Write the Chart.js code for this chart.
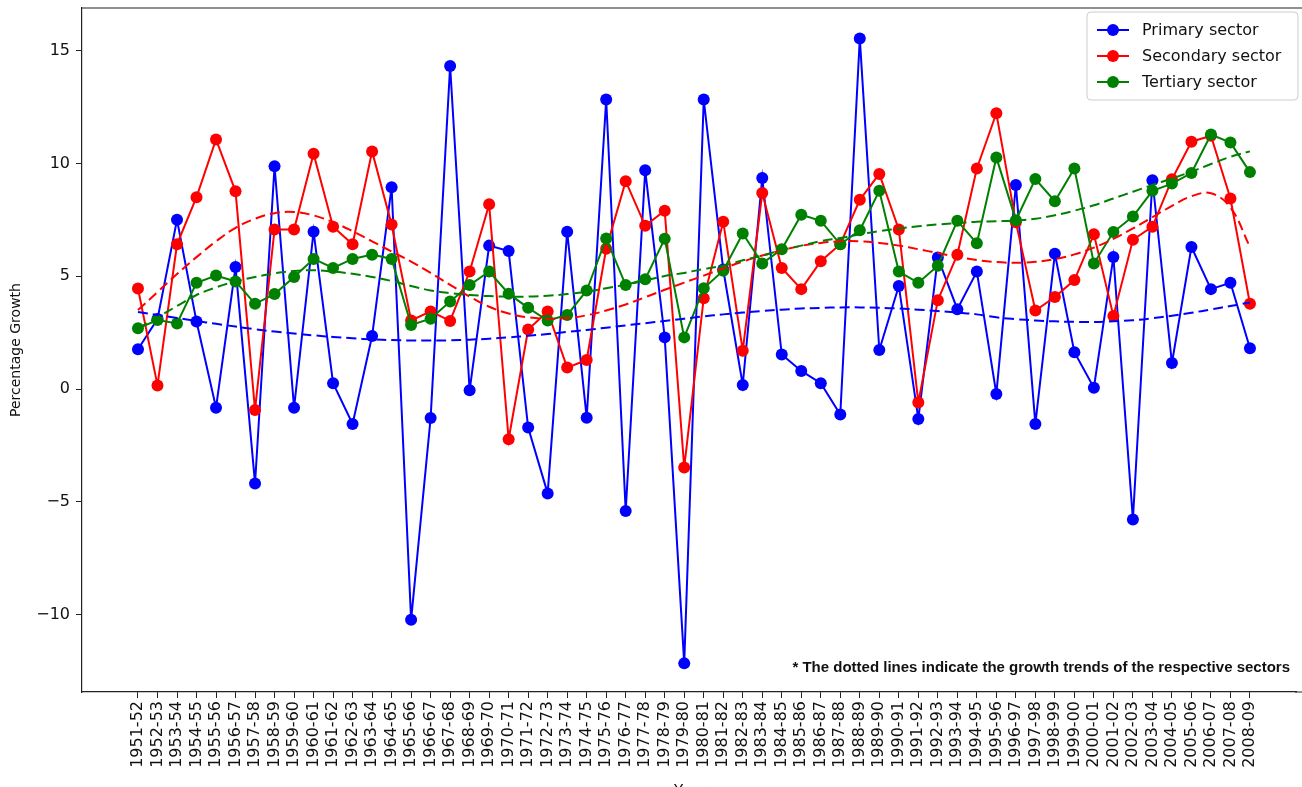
<!DOCTYPE html>
<html lang="en">
  <head>
    <meta charset="UTF-8" />
    <title>Sector growth</title>
    <script src="https://cdn.jsdelivr.net/npm/chart.js"></script>
    <style>
      body {
        margin: 0;
        background: #ffffff;
      }
      #chart {
        display: block;
      }
    </style>
  </head>
  <body>
    <canvas id="chart" width="1302" height="787"></canvas>

    <script>
      const years = [
        "1951-52", "1952-53", "1953-54", "1954-55", "1955-56", "1956-57", "1957-58", "1958-59",
        "1959-60", "1960-61", "1961-62", "1962-63", "1963-64", "1964-65", "1965-66", "1966-67",
        "1967-68", "1968-69", "1969-70", "1970-71", "1971-72", "1972-73", "1973-74", "1974-75",
        "1975-76", "1976-77", "1977-78", "1978-79", "1979-80", "1980-81", "1981-82", "1982-83",
        "1983-84", "1984-85", "1985-86", "1986-87", "1987-88", "1988-89", "1989-90", "1990-91",
        "1991-92", "1992-93", "1993-94", "1994-95", "1995-96", "1996-97", "1997-98", "1998-99",
        "1999-00", "2000-01", "2001-02", "2002-03", "2003-04", "2004-05", "2005-06", "2006-07",
        "2007-08", "2008-09",
      ];

      const primary = [
        1.76, 3.1, 7.51, 2.99, -0.83, 5.41, -4.19, 9.88, -0.83, 6.98, 0.26, -1.55, 2.35, 8.95,
        -10.24, -1.29, 14.33, -0.06, 6.36, 6.12, -1.71, -4.63, 6.98, -1.27, 12.84, -5.41, 9.7,
        2.29, -12.17, 12.84, 5.3, 0.18, 9.36, 1.53, 0.8, 0.26, -1.13, 15.55, 1.73, 4.57, -1.33,
        5.83, 3.54, 5.21, -0.22, 9.05, -1.55, 6.0, 1.63, 0.06, 5.86, -5.79, 9.26, 1.15, 6.3,
        4.43, 4.71, 1.81,
      ];
      const secondary = [
        4.46, 0.16, 6.42, 8.51, 11.07, 8.77, -0.93, 7.08, 7.08, 10.44, 7.2, 6.42, 10.54, 7.3,
        3.04, 3.44, 3.02, 5.21, 8.19, -2.23, 2.64, 3.44, 0.95, 1.29, 6.22, 9.22, 7.24, 7.91,
        -3.48, 4.03, 7.42, 1.7, 8.69, 5.37, 4.43, 5.67, 6.42, 8.39, 9.54, 7.08, -0.6, 3.94,
        5.96, 9.78, 12.23, 7.4, 3.48, 4.08, 4.83, 6.86, 3.24, 6.62, 7.2, 9.3, 10.97, 11.23,
        8.45, 3.78,
      ];
      const tertiary = [
        2.69, 3.06, 2.91, 4.71, 5.03, 4.77, 3.78, 4.21, 4.97, 5.77, 5.37, 5.77, 5.96, 5.77,
        2.84, 3.12, 3.88, 4.61, 5.21, 4.23, 3.6, 3.04, 3.28, 4.37, 6.68, 4.61, 4.87, 6.66,
        2.29, 4.47, 5.25, 6.9, 5.57, 6.2, 7.73, 7.46, 6.42, 7.04, 8.79, 5.21, 4.71, 5.47, 7.46,
        6.46, 10.27, 7.49, 9.31, 8.33, 9.78, 5.57, 6.96, 7.65, 8.79, 9.11, 9.58, 11.29, 10.93,
        9.62,
      ];

      // trend lines
      const primaryTrend = [
        3.42, 3.28, 3.15, 3.02, 2.89, 2.77, 2.65, 2.55, 2.46, 2.38, 2.31, 2.25, 2.2, 2.17,
        2.15, 2.15, 2.16, 2.19, 2.23, 2.29, 2.36, 2.44, 2.53, 2.62, 2.72, 2.82, 2.92, 3.02,
        3.12, 3.22, 3.31, 3.39, 3.46, 3.52, 3.57, 3.6, 3.62, 3.62, 3.6, 3.57, 3.52, 3.46, 3.39,
        3.31, 3.18, 3.1, 3.04, 3.0, 2.98, 2.97, 3.0, 3.05, 3.14, 3.25, 3.38, 3.53, 3.68, 3.84,
      ];
      const secondaryTrend = [
        3.5, 4.3, 5.1, 5.85, 6.55, 7.15, 7.55, 7.8, 7.85, 7.7, 7.4, 7.0, 6.55, 6.1, 5.65, 5.15,
        4.62, 4.1, 3.65, 3.35, 3.18, 3.12, 3.15, 3.27, 3.48, 3.75, 4.07, 4.4, 4.72, 5.03, 5.35,
        5.65, 5.92, 6.15, 6.35, 6.48, 6.55, 6.55, 6.48, 6.36, 6.2, 6.03, 5.86, 5.72, 5.63, 5.6,
        5.64, 5.76, 5.97, 6.27, 6.66, 7.12, 7.62, 8.12, 8.55, 8.68, 8.05, 6.3,
      ];
      const tertiaryTrend = [
        2.7, 3.18, 3.68, 4.17, 4.51, 4.77, 4.97, 5.13, 5.23, 5.27, 5.21, 5.11, 4.97, 4.79,
        4.57, 4.37, 4.25, 4.17, 4.12, 4.1, 4.1, 4.14, 4.21, 4.31, 4.47, 4.63, 4.81, 5.01, 5.15,
        5.32, 5.47, 5.71, 5.92, 6.16, 6.36, 6.56, 6.7, 6.86, 7.0, 7.12, 7.22, 7.3, 7.36, 7.42,
        7.44, 7.47, 7.55, 7.71, 7.91, 8.15, 8.45, 8.75, 9.05, 9.34, 9.64, 9.98, 10.3, 10.54,
      ];

      const yTicks = [-10, -5, 0, 5, 10, 15];
      const seriesNames = ["Primary sector", "Secondary sector", "Tertiary sector"];
      const colors = ["#0000ff", "#ff0000", "#008000"];

      const toPts = (arr) => arr.map((v, i) => ({ x: i, y: v }));

      function solid(values, color, order) {
        return {
          data: toPts(values),
          borderColor: color,
          backgroundColor: color,
          borderWidth: 2,
          pointRadius: 6,
          pointBorderWidth: 0,
          pointBackgroundColor: color,
          tension: 0,
          order: order,
        };
      }
      function trend(values, color, order) {
        return {
          data: toPts(values),
          borderColor: color,
          borderWidth: 2,
          borderDash: [10, 5],
          pointRadius: 0,
          tension: 0.4,
          order: order,
        };
      }

      // top/bottom spines to the edge, legend box and footnote, matplotlib style
      const extras = {
        id: "extras",
        afterDraw(chart) {
          const { ctx, chartArea: a } = chart;
          ctx.save();
          ctx.strokeStyle = "#222";
          ctx.lineWidth = 1.2;
          ctx.beginPath();
          ctx.moveTo(a.left, a.top);
          ctx.lineTo(chart.width, a.top);
          ctx.moveTo(a.right - 1, a.bottom);
          ctx.lineTo(chart.width, a.bottom);
          ctx.stroke();

          // legend
          const bx = 1087, by = 12, bw = 211, bh = 88;
          ctx.fillStyle = "rgba(255,255,255,0.85)";
          ctx.strokeStyle = "#cccccc";
          ctx.lineWidth = 1;
          ctx.beginPath();
          ctx.roundRect(bx, by, bw, bh, 4);
          ctx.fill();
          ctx.stroke();
          ctx.font = "16px 'DejaVu Sans'";
          ctx.textBaseline = "middle";
          seriesNames.forEach((name, k) => {
            const y = 30 + k * 26;
            ctx.strokeStyle = colors[k];
            ctx.lineWidth = 2;
            ctx.beginPath();
            ctx.moveTo(1097, y);
            ctx.lineTo(1129, y);
            ctx.stroke();
            ctx.fillStyle = colors[k];
            ctx.beginPath();
            ctx.arc(1113, y, 6, 0, Math.PI * 2);
            ctx.fill();
            ctx.fillStyle = "#111";
            ctx.fillText(name, 1142, y + 1);
          });

          ctx.font = "bold 15px 'Liberation Sans'";
          ctx.fillStyle = "#111";
          ctx.textAlign = "right";
          ctx.fillText(
            "* The dotted lines indicate the growth trends of the respective sectors",
            1290,
            668
          );

          ctx.font = "15px 'DejaVu Sans'";
          ctx.textAlign = "center";
          ctx.textBaseline = "top";
          ctx.fillText("Year", 690, 785);
          ctx.restore();
        },
      };

      new Chart(document.getElementById("chart"), {
        type: "line",
        data: {
          datasets: [
            solid(primary, colors[0], 6),
            solid(secondary, colors[1], 5),
            solid(tertiary, colors[2], 4),
            trend(primaryTrend, colors[0], 3),
            trend(secondaryTrend, colors[1], 2),
            trend(tertiaryTrend, colors[2], 1),
          ],
        },
        options: {
          responsive: false,
          animation: false,
          devicePixelRatio: 1,
          layout: { padding: { top: 8, right: 0, left: 0, bottom: 0 } },
          plugins: {
            legend: { display: false },
            tooltip: { enabled: false },
          },
          scales: {
            x: {
              type: "linear",
              min: -2.87,
              max: 59.36,
              afterBuildTicks: (s) => {
                s.ticks = years.map((_, i) => ({ value: i }));
              },
              afterFit: (s) => {
                s.height = 95;
                s.paddingLeft = 0;
                s.paddingRight = 0;
              },
              ticks: {
                autoSkip: false,
                minRotation: 90,
                maxRotation: 90,
                padding: 3,
                color: "#111",
                font: { family: "DejaVu Sans", size: 16 },
                callback: (v) => years[v],
              },
              grid: { drawOnChartArea: false, tickLength: 6, color: "#222" },
              border: { color: "#222", width: 1.2 },
            },
            y: {
              min: -13.44,
              max: 16.9,
              afterBuildTicks: (s) => {
                s.ticks = yTicks.map((v) => ({ value: v }));
              },
              afterFit: (s) => {
                s.width = 82;
                s.paddingTop = 0;
                s.paddingBottom = 0;
              },
              ticks: {
                padding: 6,
                color: "#111",
                font: { family: "DejaVu Sans", size: 16 },
                callback: (v) => (v < 0 ? "\u2212" + Math.abs(v) : String(v)),
              },
              title: {
                display: true,
                text: "Percentage Growth",
                color: "#111",
                padding: { top: 8, bottom: 0 },
                font: { family: "DejaVu Sans", size: 14 },
              },
              grid: { drawOnChartArea: false, tickLength: 6, color: "#222" },
              border: { color: "#222", width: 1.2 },
            },
          },
        },
        plugins: [extras],
      });
    </script>
  </body>
</html>
